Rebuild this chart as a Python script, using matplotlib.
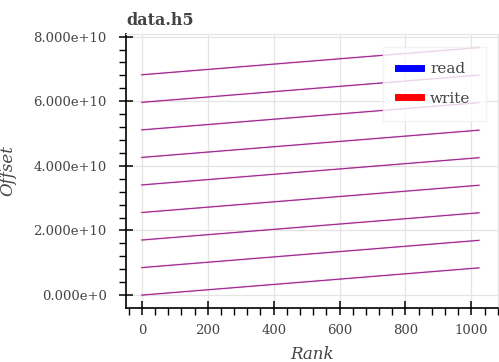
import matplotlib
matplotlib.use("Agg")
import matplotlib.pyplot as plt
from matplotlib.ticker import FixedLocator, MultipleLocator

# each line: offsets touched by ranks 0..1023 during one pass over the file
rank_first = 0
rank_last = 1023
seg_start = [0.0, 0.852e10, 1.705e10, 2.557e10, 3.41e10, 4.262e10, 5.114e10, 5.967e10, 6.82e10]
seg_end = [0.843e10, 1.695e10, 2.548e10, 3.40e10, 4.253e10, 5.105e10, 5.957e10, 6.81e10, 7.663e10]

y_ticks = [0, 2e10, 4e10, 6e10, 8e10]
y_ticklabels = ["0.000e+0", "2.000e+10", "4.000e+10", "6.000e+10", "8.000e+10"]
x_ticks = [0, 200, 400, 600, 800, 1000]

txt = "#444444"
plt.rcParams["font.family"] = "DejaVu Serif"

fig = plt.figure(figsize=(4.99, 3.62), dpi=100)
ax = fig.add_axes([0.2525, 0.15, 0.745, 0.755])

for s, e in zip(seg_start, seg_end):
    ax.plot([rank_first, rank_last], [s, e], color="#f2b6d8", lw=1.8, alpha=0.45)
    ax.plot([rank_first, rank_last], [s, e], color="blue", lw=0.7, alpha=0.7)
    ax.plot([rank_first, rank_last], [s, e], color="red", lw=0.7, alpha=0.5)

ax.set_xlim(-48, 1080)
ax.set_ylim(-0.39e10, 8.07e10)

ax.yaxis.set_major_locator(FixedLocator(y_ticks))
ax.set_yticklabels(y_ticklabels)
ax.yaxis.set_minor_locator(MultipleLocator(0.4e10))
ax.xaxis.set_major_locator(FixedLocator(x_ticks))
ax.xaxis.set_minor_locator(MultipleLocator(40))

ax.grid(True, which="major", color="#e4e4e4", lw=0.9)
ax.set_axisbelow(True)

for side in ["top", "right"]:
    ax.spines[side].set_color("#e4e4e4")
for side in ["left", "bottom"]:
    ax.spines[side].set_color("black")
    ax.spines[side].set_linewidth(1.2)

ax.tick_params(which="major", direction="inout", length=10, width=1.1,
               labelsize=9.5, labelcolor=txt)
ax.tick_params(which="minor", direction="out", length=5, width=1.0)
ax.tick_params(axis="x", which="major", pad=7)
ax.tick_params(axis="y", which="major", pad=9)

ax.set_xlabel("Rank", style="italic", fontsize=12, color=txt, labelpad=6)
ax.set_ylabel("Offset", style="italic", fontsize=12, color=txt, labelpad=12)
ax.set_title("data.h5", loc="left", fontweight="bold", fontsize=11.5, color="#444444", pad=7)

ax.plot([], [], color="blue", lw=5, label="read")
ax.plot([], [], color="red", lw=5, label="write")
leg = ax.legend(loc="upper right", bbox_to_anchor=(0.968, 0.954), fontsize=11,
                frameon=True, fancybox=False, handlelength=1.5, handletextpad=0.6,
                borderpad=1.0, labelspacing=1.0, edgecolor="#f0f0f0",
                borderaxespad=0)
leg.get_frame().set_linewidth(1.0)
for t in leg.get_texts():
    t.set_color(txt)

fig.savefig("out.png", dpi=100)
